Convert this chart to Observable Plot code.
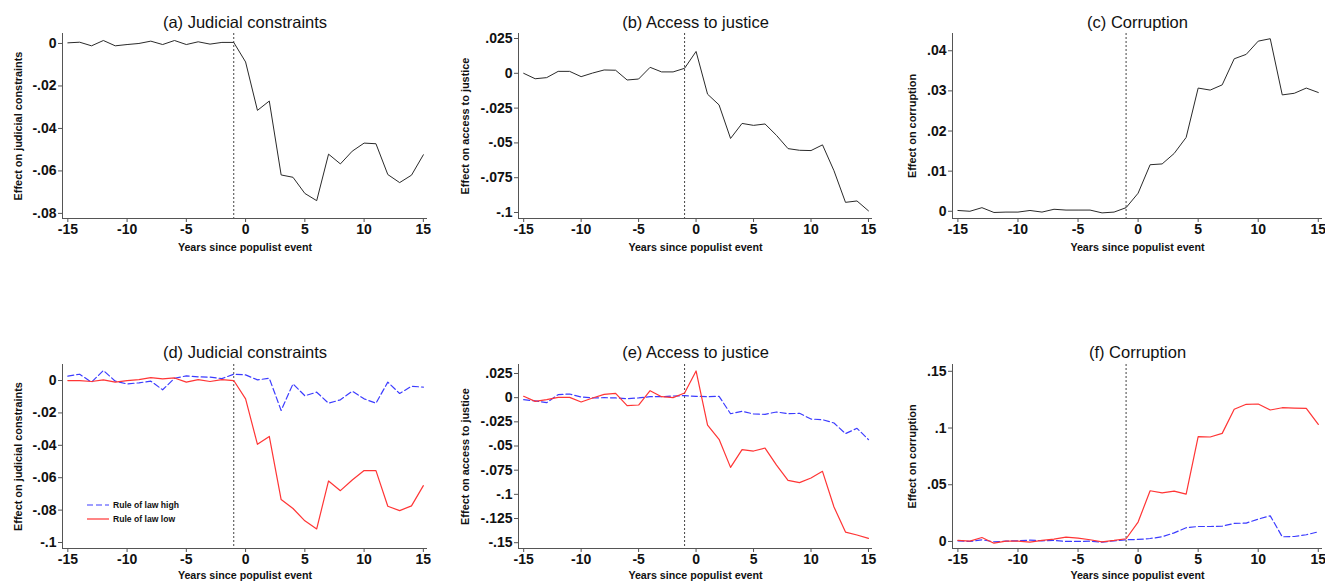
<!DOCTYPE html>
<html><head><meta charset="utf-8">
<script src="https://cdn.jsdelivr.net/npm/d3@7"></script>
<script src="https://cdn.jsdelivr.net/npm/@observablehq/plot@0.6"></script>
<style>
body{margin:0;background:#fff;}
#wrap{position:relative;width:1325px;height:581px;overflow:hidden;background:#fff;font-family:"Liberation Sans",Arial,sans-serif;color:#111;}
.panel{position:absolute;}
.legend{position:absolute;font-size:8.6px;font-weight:bold;line-height:14px;color:#111;}
.legend div{display:flex;align-items:center;height:14px;}
.legend svg{margin-right:4px;}
</style></head><body><div id="wrap"></div>
<script>
const years = [-15,-14,-13,-12,-11,-10,-9,-8,-7,-6,-5,-4,-3,-2,-1,0,1,2,3,4,5,6,7,8,9,10,11,12,13,14,15];
const eventYear = -1;
const xTicks = [-15,-10,-5,0,5,10,15];

// Top row: full sample
const judicialAll = [0.0003,0.0006,-0.0011,0.0014,-0.0011,-0.0005,0,0.0011,-0.0005,0.0014,-0.0005,0.0008,-0.0003,0.0005,0.0005,
  -0.0087,-0.0315,-0.0271,-0.0619,-0.063,-0.0706,-0.074,-0.0521,-0.0567,-0.0507,-0.0469,-0.0472,-0.0617,-0.0655,-0.062,-0.0524];
const accessAll = [0,-0.0039,-0.0031,0.0014,0.0014,-0.0024,0.0002,0.0024,0.0022,-0.0048,-0.0041,0.0043,0.001,0.001,0.0036,
  0.0157,-0.015,-0.0227,-0.0468,-0.036,-0.0374,-0.0364,-0.0446,-0.0541,-0.0553,-0.0555,-0.0514,-0.07,-0.0927,-0.0917,-0.0988];
const corruptionAll = [0.0002,0,0.0009,-0.0003,-0.0002,-0.0002,0.0002,-0.0002,0.0005,0.0003,0.0003,0.0003,-0.0004,-0.0002,0.0009,
  0.0045,0.0116,0.0118,0.0144,0.0184,0.0307,0.0302,0.0315,0.038,0.0391,0.0424,0.043,0.029,0.0294,0.0307,0.0296];

// Bottom row: by rule of law
const judicialHigh = [0.0027,0.0039,-0.001,0.0062,-0.0004,-0.0021,-0.0014,-0.0004,-0.0057,0.0014,0.0029,0.0023,0.0021,0.0012,0.0039,
  0.0035,0.0004,0.0014,-0.0185,-0.0021,-0.0094,-0.0072,-0.014,-0.0119,-0.0066,-0.0113,-0.014,-0.001,-0.008,-0.0035,-0.0041];
const judicialLow = [0,0,-0.0006,0.0004,-0.001,0,0.0006,0.0018,0.001,0.0016,-0.001,0.0006,-0.0006,0.0006,0,
  -0.0113,-0.0394,-0.0345,-0.0735,-0.079,-0.0866,-0.0916,-0.062,-0.068,-0.0614,-0.0556,-0.0556,-0.0776,-0.0803,-0.0774,-0.0649];
const accessHigh = [-0.0021,-0.0034,-0.0052,0.0031,0.0038,0.0007,-0.0003,0,-0.0003,-0.001,-0.0003,0.001,0.001,0.0017,0.0021,
  0.0014,0.001,0.0014,-0.0166,-0.0141,-0.0169,-0.0172,-0.0148,-0.0166,-0.0162,-0.0221,-0.0228,-0.0262,-0.0372,-0.0317,-0.0434];
const accessLow = [0.0014,-0.0038,-0.0021,0.0003,0.0003,-0.0045,-0.0003,0.0034,0.0045,-0.0083,-0.0076,0.0072,0.001,0,0.0048,
  0.0276,-0.0283,-0.0431,-0.0721,-0.0538,-0.0552,-0.0521,-0.0697,-0.0855,-0.0879,-0.0831,-0.0762,-0.1131,-0.139,-0.142,-0.1455];
const corruptionHigh = [0.0006,0,0.0015,-0.0003,0.0003,0.0006,0.0012,0.0006,0.0009,0,0,0.0003,-0.0006,0.0006,0.0015,
  0.0018,0.0026,0.0041,0.0076,0.0121,0.0132,0.0132,0.0135,0.0159,0.0162,0.0197,0.0226,0.0041,0.0044,0.0059,0.0085];
const corruptionLow = [0.0009,0.0003,0.0035,-0.0015,0.0003,0.0003,-0.0006,0.0009,0.0021,0.0038,0.0029,0.0015,-0.0003,0.0009,0.0024,
  0.0171,0.0447,0.0429,0.0444,0.0418,0.0924,0.0921,0.0953,0.1165,0.1209,0.1212,0.1159,0.1179,0.1176,0.1174,0.1032];

const titles = ["(a) Judicial constraints","(b) Access to justice","(c) Corruption","(d) Judicial constraints","(e) Access to justice","(f) Corruption"];
const yLabels = ["Effect on judicial constraints","Effect on access to justice","Effect on corruption"];
const xLabel = "Years since populist event";
const legendLabels = ["Rule of law high","Rule of law low"];

const ticksJudicialAll = [0,-0.02,-0.04,-0.06,-0.08];
const ticksAccessAll = [0.025,0,-0.025,-0.05,-0.075,-0.1];
const ticksCorruptionAll = [0,0.01,0.02,0.03,0.04];
const ticksJudicialRule = [0,-0.02,-0.04,-0.06,-0.08,-0.1];
const ticksAccessRule = [0.025,0,-0.025,-0.05,-0.075,-0.1,-0.125,-0.15];
const ticksCorruptionRule = [0,0.05,0.1,0.15];

const BLACK = "#2a2a2a", BLUE = "#3c3cff", RED = "#ff3535";
const xDomain = [-15.45, 15.35];

const fmtY = d => d === 0 ? "0" : String(+d.toFixed(4)).replace("0.", ".");
const fmtX = d => String(d);

const cols = [
  {left:0, width:440, mL:62, mR:13, yLabDx:-44},
  {left:440, width:440, mL:78, mR:8, yLabDx:-53},
  {left:880, width:445, mL:72, mR:3, yLabDx:-40}
];
const rows = [
  {top:0, height:260, mT:33, mB:42, titleDy:-11, xLabDy:29},
  {top:330, height:251, mT:34, mB:33, titleDy:-12, xLabDy:27}
];

const panels = [
  {r:0,c:0,title:titles[0],ylab:yLabels[0],yDomain:[-0.0824,0.0047],ticks:ticksJudicialAll,series:[{v:judicialAll,color:BLACK,w:1,dash:null}]},
  {r:0,c:1,title:titles[1],ylab:yLabels[1],yDomain:[-0.1043,0.0286],ticks:ticksAccessAll,series:[{v:accessAll,color:BLACK,w:1,dash:null}]},
  {r:0,c:2,title:titles[2],ylab:yLabels[2],yDomain:[-0.0018,0.0443],ticks:ticksCorruptionAll,series:[{v:corruptionAll,color:BLACK,w:1,dash:null}]},
  {r:1,c:0,title:titles[3],ylab:yLabels[0],yDomain:[-0.1037,0.0099],ticks:ticksJudicialRule,series:[{v:judicialHigh,color:BLUE,w:1.2,dash:"6,3"},{v:judicialLow,color:RED,w:1.2,dash:null}]},
  {r:1,c:1,title:titles[4],ylab:yLabels[1],yDomain:[-0.156,0.0343],ticks:ticksAccessRule,series:[{v:accessHigh,color:BLUE,w:1.2,dash:"6,3"},{v:accessLow,color:RED,w:1.2,dash:null}]},
  {r:1,c:2,title:titles[5],ylab:yLabels[2],yDomain:[-0.0062,0.156],ticks:ticksCorruptionRule,series:[{v:corruptionHigh,color:BLUE,w:1.2,dash:"6,3"},{v:corruptionLow,color:RED,w:1.2,dash:null}]}
];

const wrap = document.getElementById("wrap");
for (const p of panels) {
  const col = cols[p.c], row = rows[p.r];
  const marks = [
    Plot.ruleX([xDomain[0]], {stroke:"#555", strokeWidth:1}),
    Plot.ruleY([p.yDomain[0]], {stroke:"#555", strokeWidth:1}),
    Plot.ruleX([eventYear], {stroke:"#444", strokeWidth:1, strokeDasharray:"2,2"}),
    Plot.axisX({ticks:xTicks, tickFormat:fmtX, tickSize:4, tickPadding:2, fontSize:14, fontWeight:"bold", label:null, stroke:"#555", fill:"#111"}),
    Plot.axisY({ticks:p.ticks, tickFormat:fmtY, tickSize:4, tickPadding:2, fontSize:14, fontWeight:"bold", label:null, stroke:"#555", fill:"#111"}),
  ];
  for (const s of p.series) {
    marks.push(Plot.line(years.map((x,i)=>({x, y:s.v[i]})), {x:"x", y:"y", stroke:s.color, strokeWidth:s.w, strokeDasharray:s.dash || undefined}));
  }
  marks.push(Plot.text([p.title], {frameAnchor:"top", dy:row.titleDy, lineAnchor:"middle", textAnchor:"middle", fontSize:16.5, fill:"#111"}));
  marks.push(Plot.text([xLabel], {frameAnchor:"bottom", dy:row.xLabDy, lineAnchor:"middle", textAnchor:"middle", fontSize:10.7, fontWeight:"bold", fill:"#111"}));
  marks.push(Plot.text([p.ylab], {frameAnchor:"left", dx:col.yLabDx, rotate:-90, lineAnchor:"middle", textAnchor:"middle", fontSize:10.9, fontWeight:"bold", fill:"#111"}));
  const svg = Plot.plot({
    width: col.width, height: row.height,
    marginLeft: col.mL, marginRight: col.mR, marginTop: row.mT, marginBottom: row.mB,
    x: {domain: xDomain},
    y: {domain: p.yDomain},
    style: {fontFamily: '"Liberation Sans", Arial, sans-serif', background: "transparent", overflow: "visible", maxWidth: "none", color: "#111"},
    marks
  });
  svg.classList.add("panel");
  svg.style.left = col.left + "px";
  svg.style.top = row.top + "px";
  wrap.appendChild(svg);
}

// Legend inside panel (d)
const leg = document.createElement("div");
leg.className = "legend";
leg.style.left = "87px";
leg.style.top = "498px";
const legItems = [{label:legendLabels[0], color:BLUE, dash:"6,3"},{label:legendLabels[1], color:RED, dash:null}];
for (const it of legItems) {
  const row = document.createElement("div");
  row.innerHTML = `<svg width="22" height="6"><line x1="0" y1="3" x2="22" y2="3" stroke="${it.color}" stroke-width="1.2" ${it.dash ? `stroke-dasharray="${it.dash}"` : ""}/></svg><span>${it.label}</span>`;
  leg.appendChild(row);
}
wrap.appendChild(leg);
</script>
</body></html>
